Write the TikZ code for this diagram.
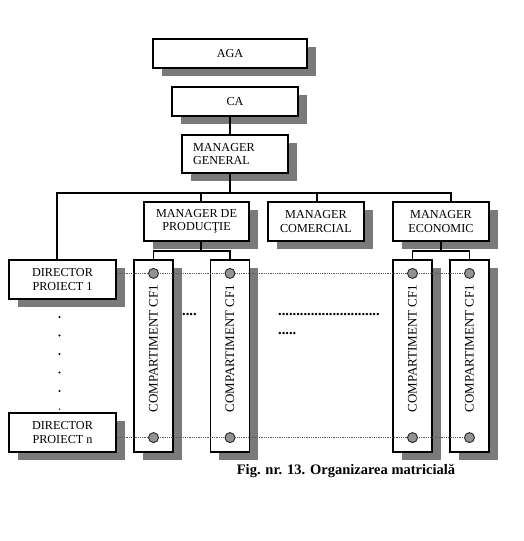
\documentclass[tikz,border=0pt]{standalone}
\usepackage{fontspec}
\setmainfont{Liberation Serif}
\usetikzlibrary{shadows}
\begin{document}
\begin{tikzpicture}[x=1pt,y=-1pt,
  box/.style={draw=black, line width=1.2pt, fill=white, inner sep=1pt,
    font=\fontsize{12.2}{13.5}\selectfont, align=center,
    drop shadow={shadow xshift=8.5pt, shadow yshift=-8pt, fill=black!52, opacity=1}},
  comp/.style={box, minimum width=39pt, minimum height=192pt,
    font=\fontsize{13}{15}\selectfont},
  conn/.style={draw=black, line width=1.1pt},
  link/.style={draw=black!65, line width=0.8pt, densely dotted},
  knob/.style={circle, draw=black!85, line width=0.9pt, fill=gray!85, minimum size=10pt, inner sep=0pt},
  vdot/.style={circle, fill=black, inner sep=0pt, minimum size=2.2pt},
  dotrow/.style={font=\fontsize{14.5}{16}\selectfont\bfseries, inner sep=0pt, anchor=west}
]
\useasboundingbox (0,0) rectangle (524,541);

% boxes
\node[box, minimum width=154pt, minimum height=29pt] (aga) at (230,53.5) {AGA};
\node[box, minimum width=126pt, minimum height=29pt] (ca) at (235,101.5) {CA};
\node[box, minimum width=106pt, minimum height=38pt, align=left, text width=84pt] (mg) at (235,154) {MANAGER\\GENERAL};
\node[box, minimum width=105pt, minimum height=39pt] (mp) at (196.5,221.5) {MANAGER DE\\PRODUC\c{T}IE};
\node[box, minimum width=96pt, minimum height=39pt] (mc) at (316,221.5) {MANAGER\\COMERCIAL};
\node[box, minimum width=96pt, minimum height=39pt] (me) at (441,221.5) {MANAGER\\ECONOMIC};
\node[box, minimum width=107pt, minimum height=39pt] (dp1) at (62.5,279.5) {DIRECTOR\\PROIECT 1};
\node[box, minimum width=107pt, minimum height=39pt] (dpn) at (62.5,432.5) {DIRECTOR\\PROIECT n};

\node[comp] (c1) at (153.5,356) {\rotatebox{90}{\hspace*{15pt}COMPARTIMENT CF1}};
\node[comp] (c2) at (230,356) {\rotatebox{90}{\hspace*{15pt}COMPARTIMENT CF1}};
\node[comp] (c3) at (412.5,356) {\rotatebox{90}{\hspace*{15pt}COMPARTIMENT CF1}};
\node[comp] (c4) at (469.5,356) {\rotatebox{90}{\hspace*{15pt}COMPARTIMENT CF1}};

% hierarchy connectors
\coordinate (spine) at (230,193);
\draw[conn] (ca.south -| spine) -- (mg.north -| spine);
\draw[conn] (mg.south -| spine) -- (spine);
\draw[conn] ([xshift=-5.5pt]dp1.north) |- (spine) -| ([xshift=10pt]me.north);
\draw[conn] ([xshift=4.5pt]mp.north) -- ([xshift=4.5pt]mp.north |- spine);
\draw[conn] ([xshift=1pt]mc.north) -- ([xshift=1pt]mc.north |- spine);

\coordinate (mpj) at (201,251);
\coordinate (mej) at (441,251);
\draw[conn] (mp.south -| mpj) -- (mpj);
\draw[conn] (c1.north) |- (mpj) -| (c2.north);
\draw[conn] (me.south -| mej) -- (mej);
\draw[conn] (c3.north) |- (mej) -| (c4.north);

% project lines
\coordinate (k1a) at ([yshift=-14pt]c1.north);
\coordinate (k2a) at ([yshift=-14pt]c2.north);
\coordinate (k3a) at ([yshift=-14pt]c3.north);
\coordinate (k4a) at ([yshift=-14pt]c4.north);
\coordinate (k1b) at ([yshift=15pt]c1.south);
\coordinate (k2b) at ([yshift=15pt]c2.south);
\coordinate (k3b) at ([yshift=15pt]c3.south);
\coordinate (k4b) at ([yshift=15pt]c4.south);
\draw[link] (dp1.east |- k1a) -- (k4a);
\draw[link] (dpn.east |- k1b) -- (k4b);
\foreach \k in {k1a,k2a,k3a,k4a,k1b,k2b,k3b,k4b}
  \node[knob] (n\k) at (\k) {};

% ellipsis dots
\foreach \yy [count=\i] in {317,335.5,354,372.5,391}
  \node[vdot] (vd\i) at (59.5,\yy) {};
\node[vdot, minimum size=1.5pt] (vd6) at (59.5,409) {};
\node[dotrow] (dA) at (182,315) {....};
\node[dotrow] (dB) at (278,315) {............................};
\node[dotrow] (dC) at (278,333.5) {.....};

% caption
\node[font=\fontsize{14.5}{16}\selectfont\bfseries, inner sep=0pt] (cap) at (346,471) {Fig. nr. 13. Organizarea matricial\u{a}};
\end{tikzpicture}
\end{document}
